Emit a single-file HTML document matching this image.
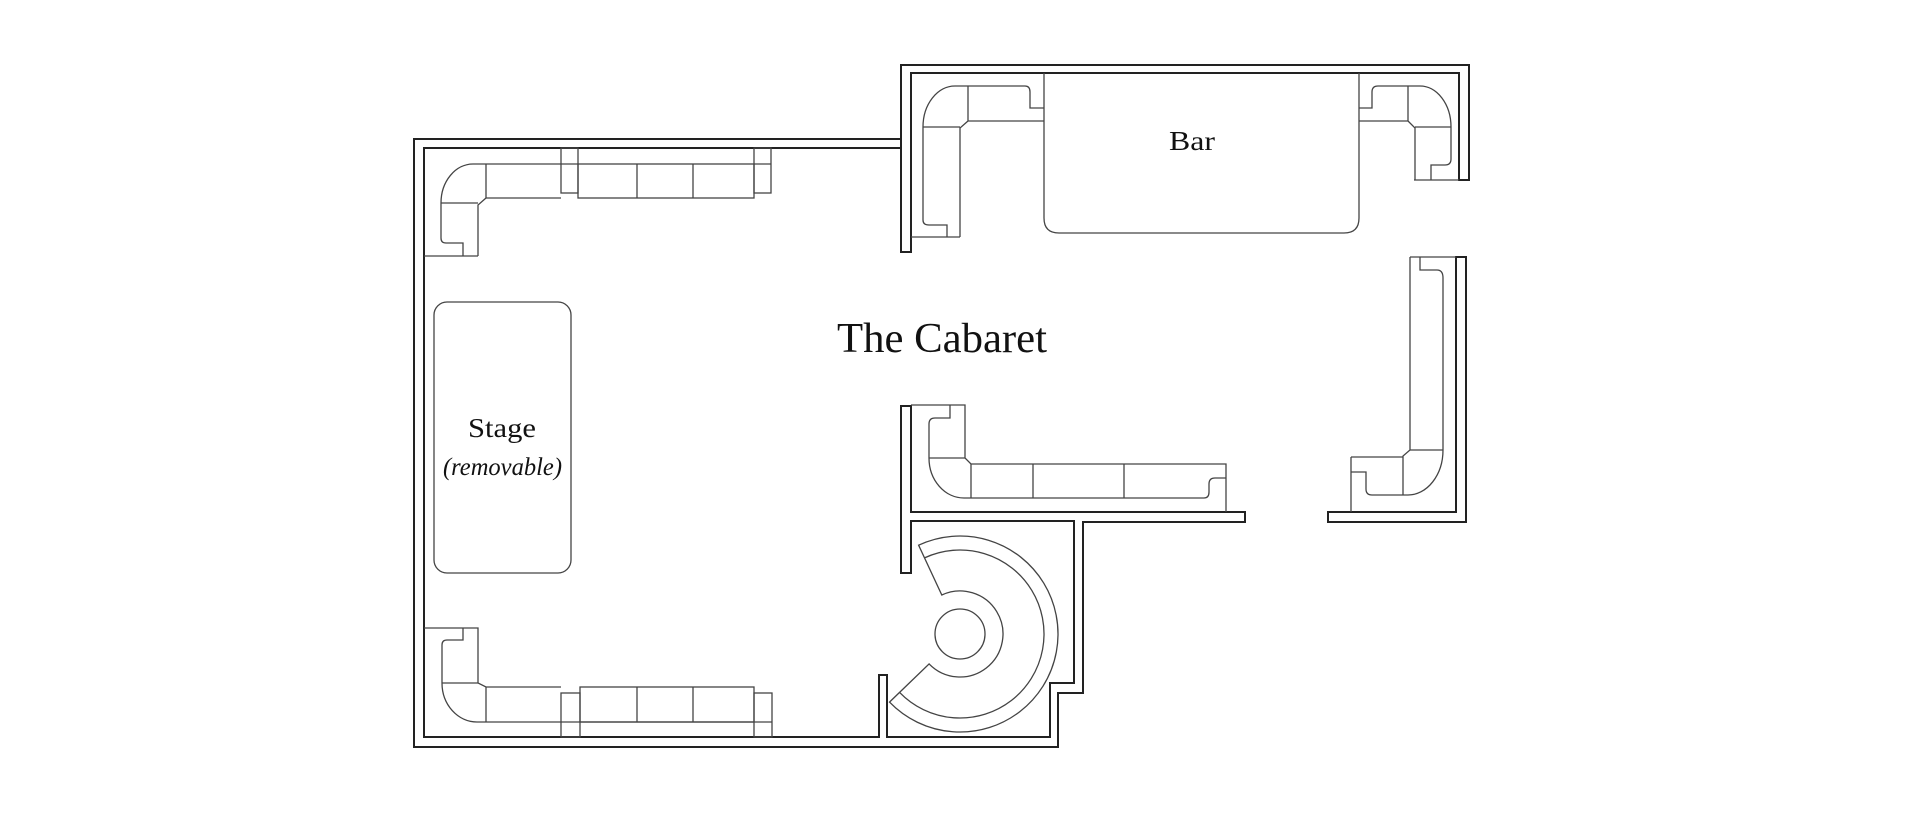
<!DOCTYPE html>
<html><head><meta charset="utf-8"><style>
html,body{margin:0;padding:0;background:#fff;}
svg{display:block;}
text{font-family:"Liberation Serif",serif;fill:#111;}
</style></head><body>
<svg width="1920" height="825" viewBox="0 0 1920 825" xmlns="http://www.w3.org/2000/svg">
<g fill="none" stroke="#222" stroke-width="2" stroke-linejoin="miter">
<!-- bar section wall -->
<path d="M901,252 L901,65 L1469,65 L1469,180 L1459,180 L1459,73 L911,73 L911,252 Z"/>
<!-- main walls -->
<path d="M901,139 L414,139 L414,747 L1058,747 L1058,693 L1083,693 L1083,522 L1245,522 L1245,512 L911,512 L911,406 L901,406 L901,573 L911,573 L911,521 L1074,521 L1074,683 L1050,683 L1050,737 L887,737 L887,675 L879,675 L879,737 L424,737 L424,148 L901,148"/>
<!-- right wall -->
<path d="M1328,512 L1456,512 L1456,257 L1466,257 L1466,522 L1328,522 Z"/>
</g>
<g fill="none" stroke="#444" stroke-width="1.3">
<!-- stage -->
<rect x="434" y="302" width="137" height="271" rx="13"/>
<!-- bar -->
<path d="M1044,73 L1044,218 Q1044,233 1059,233 L1344,233 Q1359,233 1359,218 L1359,73"/>
<!-- top-left sofa -->
<path d="M441,203 A32,39 0 0 1 473,164 L561,164"/>
<path d="M486,164 L486,198 L561,198"/>
<path d="M486,198 L478,205 L478,256 M424,256 L478,256 M441,203 L478,203"/>
<path d="M441,203 L441,238 Q441,243 446,243 L463,243 L463,256"/>
<rect x="561" y="148" width="17" height="45"/>
<rect x="754" y="148" width="17" height="45"/>
<path d="M754,164 L771,164 M561,164 L578,164"/>
<rect x="578" y="164" width="176" height="34"/>
<path d="M637,164 L637,198 M693,164 L693,198"/>
<!-- bottom-left sofa -->
<path d="M424,628 L478,628 L478,683 L486,687 L561,687 M486,687 L486,722"/>
<path d="M463,628 L463,640 L447,640 Q442,640 442,645 L442,683 A35,39 0 0 0 477,722 L772,722"/>
<path d="M442,683 L478,683"/>
<rect x="561" y="693" width="19" height="44"/>
<rect x="754" y="693" width="18" height="44"/>
<rect x="580" y="687" width="174" height="35"/>
<path d="M637,687 L637,722 M693,687 L693,722"/>
<!-- bar left sofa -->
<path d="M923,127 A32,41 0 0 1 955,86 L1025,86 Q1030,86 1030,92 L1030,108 L1044,108"/>
<path d="M968,86 L968,121 L1044,121 M968,121 L960,128 L960,237 M923,127 L960,127"/>
<path d="M923,127 L923,220 Q923,225 929,225 L947,225 L947,237 M911,237 L960,237"/>
<!-- bar right sofa -->
<path d="M1451,127 A31,41 0 0 0 1420,86 L1378,86 Q1372,86 1372,92 L1372,108 L1359,108"/>
<path d="M1408,86 L1408,121 L1359,121 M1408,121 L1415,128 L1415,180 M1415,127 L1451,127"/>
<path d="M1451,127 L1451,159 Q1451,165 1445,165 L1431,165 L1431,180 M1414,180 L1459,180"/>
<!-- right sofa -->
<path d="M1410,257 L1456,257 M1410,257 L1410,450 L1403,456 L1403,495"/>
<path d="M1420,257 L1420,270 L1437,270 Q1443,270 1443,278 L1443,450 A35,45 0 0 1 1408,495 L1372,495 Q1366,495 1366,489 L1366,472 L1351,472"/>
<path d="M1410,450 L1443,450 M1351,457 L1403,457 M1351,457 L1351,512"/>
<!-- middle sofa -->
<path d="M911,405 L965,405 L965,458 L971,464 L1226,464 L1226,512"/>
<path d="M950,405 L950,418 L935,418 Q929,418 929,424 L929,458 A35,40 0 0 0 964,498 L1204,498 Q1209,498 1209,492 L1209,484 Q1209,478 1215,478 L1226,478"/>
<path d="M929,458 L965,458 M971,464 L971,498 M1033,464 L1033,498 M1124,464 L1124,498"/>
<!-- round seat -->
<path d="M918.6,545.2 A98,98 0 1 1 889.5,702.1 L929.1,663.9 A43,43 0 1 0 941.8,595.0 Z"/>
<path d="M924.5,557.9 A84,84 0 1 1 899.6,692.4"/>
<circle cx="960" cy="634" r="25"/>
</g>
<text x="837" y="352" font-size="42" textLength="210" lengthAdjust="spacingAndGlyphs">The Cabaret</text>
<text x="1169" y="150" font-size="27" textLength="46" lengthAdjust="spacingAndGlyphs">Bar</text>
<text x="468" y="437" font-size="27" textLength="68" lengthAdjust="spacingAndGlyphs">Stage</text>
<text x="443" y="475" font-size="25" font-style="italic" textLength="119" lengthAdjust="spacingAndGlyphs">(removable)</text>
</svg>
</body></html>
